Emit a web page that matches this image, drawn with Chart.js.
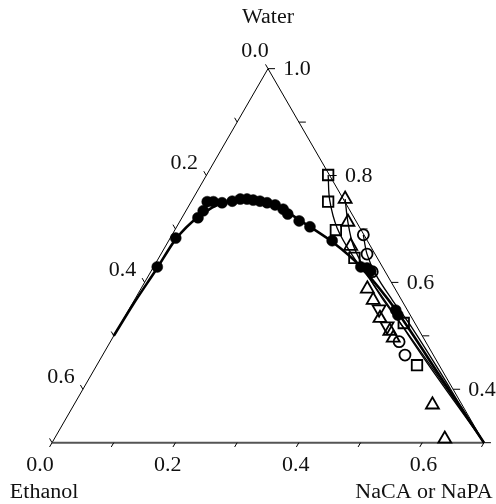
<!DOCTYPE html>
<html>
<head>
<meta charset="utf-8">
<script src="https://cdn.jsdelivr.net/npm/chart.js@4/dist/chart.umd.min.js"></script>
<style>
  html, body { margin: 0; padding: 0; background: #ffffff; }
  canvas { display: block; }
</style>
</head>
<body>
<canvas id="chart" width="496" height="504"></canvas>
<script>
// Compositions as mass fractions: salt (NaCA or NaPA) and water; ethanol = 1 - salt - water.

// Binodal data, filled circles
const filledSalt  = [0.006, 0.009, 0.026, 0.028, 0.026, 0.036, 0.051, 0.066, 0.077, 0.088, 0.099, 0.111,
                     0.124, 0.139, 0.156, 0.168, 0.193, 0.216, 0.265, 0.336, 0.347, 0.356, 0.433, 0.441];
const filledWater = [0.629, 0.683, 0.721, 0.734, 0.751, 0.751, 0.749, 0.752, 0.756, 0.756, 0.754, 0.752,
                     0.749, 0.745, 0.737, 0.728, 0.715, 0.704, 0.678, 0.629, 0.627, 0.621, 0.548, 0.539];

// Open squares
const squareSalt  = [0.197, 0.222, 0.261, 0.317, 0.458, 0.519];
const squareWater = [0.801, 0.751, 0.698, 0.646, 0.524, 0.445];

// Open triangles
const triSalt  = [0.247, 0.273, 0.300, 0.367, 0.387, 0.415, 0.443, 0.455, 0.581, 0.633];
const triWater = [0.756, 0.713, 0.668, 0.588, 0.567, 0.533, 0.509, 0.496, 0.371, 0.307];

// Open inverted triangles
const invTriSalt  = [0.405, 0.434];
const invTriWater = [0.550, 0.518];

// Open circles
const circSalt  = [0.310, 0.334, 0.359, 0.468, 0.490];
const circWater = [0.689, 0.653, 0.620, 0.489, 0.464];

// Fitted binodal curves
const fitFilledSalt  = [0.000, 0.002, 0.007, 0.010, 0.025, 0.049, 0.089, 0.139, 0.192, 0.266, 0.336, 0.437, 0.566, 0.700];
const fitFilledWater = [0.500, 0.560, 0.627, 0.681, 0.722, 0.747, 0.754, 0.745, 0.717, 0.676, 0.629, 0.545, 0.425, 0.300];
const fitSquareSalt  = [0.197, 0.223, 0.261, 0.311, 0.363, 0.436, 0.527, 0.615, 0.700];
const fitSquareWater = [0.801, 0.754, 0.702, 0.651, 0.605, 0.539, 0.455, 0.376, 0.300];
const fitTriSalt  = [0.247, 0.273, 0.303, 0.346, 0.399, 0.467, 0.555, 0.629, 0.700];
const fitTriWater = [0.756, 0.713, 0.670, 0.623, 0.571, 0.511, 0.432, 0.365, 0.300];
const fitCircSalt  = [0.310, 0.334, 0.368, 0.418, 0.476, 0.563, 0.632, 0.700];
const fitCircWater = [0.689, 0.653, 0.614, 0.567, 0.515, 0.432, 0.365, 0.300];

// Axis ticks
const axisMin = 0.3;                     // lowest water fraction shown
const saltTicks    = [0, 0.1, 0.2, 0.3, 0.4, 0.5, 0.6, 0.7];
const saltLabels   = ['0.0', '0.2', '0.4', '0.6'];
const ethanolTicks = [0, 0.1, 0.2, 0.3, 0.4, 0.5, 0.6, 0.7];
const ethanolLabels = ['0.0', '0.2', '0.4', '0.6'];
const waterTicks   = [1.0, 0.9, 0.8, 0.7, 0.6, 0.5, 0.4, 0.3];
const waterLabels  = ['1.0', '0.8', '0.6', '0.4'];

const H = Math.sqrt(3) / 2;
function toXY(s, w) { return { x: s + w / 2, y: w * H }; }
function points(sArr, wArr) { return sArr.map((s, i) => toXY(s, wArr[i])); }

const SERIF = '"Liberation Serif", "DejaVu Serif", serif';

// draw text slightly widened to suit the serif face
function label(ctx, text, x, y) {
  ctx.save();
  ctx.translate(x, y);
  ctx.scale(1.1, 1);
  ctx.fillText(text, 0, 0);
  ctx.restore();
}

const ternaryFrame = {
  id: 'ternaryFrame',
  beforeDatasetsDraw(chart) {
    const { ctx } = chart;
    const xs = chart.scales.x, ys = chart.scales.y;
    const P = (s, w) => { const p = toXY(s, w); return [xs.getPixelForValue(p.x), ys.getPixelForValue(p.y)]; };
    const top = P(0, 1), bl = P(0, axisMin), br = P(1 - axisMin, axisMin);

    ctx.save();
    ctx.lineCap = 'butt';
    // side edges
    ctx.strokeStyle = '#000';
    ctx.lineWidth = 1;
    ctx.beginPath();
    ctx.moveTo(bl[0], bl[1]); ctx.lineTo(top[0], top[1]); ctx.lineTo(br[0], br[1]);
    ctx.stroke();
    // base
    ctx.strokeStyle = '#555';
    ctx.lineWidth = 2;
    ctx.beginPath();
    ctx.moveTo(bl[0], bl[1]); ctx.lineTo(br[0], br[1]);
    ctx.stroke();

    ctx.strokeStyle = '#000';
    ctx.lineWidth = 1;
    // salt ticks on base, pointing down-left
    saltTicks.forEach(v => {
      const [x, y] = P(v, axisMin);
      ctx.beginPath(); ctx.moveTo(x, y); ctx.lineTo(x - 2.5, y + 4.3); ctx.stroke();
    });
    // water ticks on right edge, horizontal
    waterTicks.forEach(v => {
      const [x, y] = P(1 - v, v);
      ctx.beginPath(); ctx.moveTo(x, y); ctx.lineTo(x + 7, y); ctx.stroke();
    });
    // ethanol ticks on left edge, pointing up-left
    ethanolTicks.forEach(v => {
      const [x, y] = P(0, 1 - v);
      ctx.beginPath(); ctx.moveTo(x, y); ctx.lineTo(x - 2.5, y - 4.3); ctx.stroke();
    });

    ctx.fillStyle = '#111';
    ctx.font = '20px ' + SERIF;
    ctx.textAlign = 'center';
    ctx.textBaseline = 'middle';
    saltLabels.forEach(t => {
      const v = parseFloat(t);
      const [x, y] = P(v, axisMin);
      label(ctx, t, x - 12 + 22 * v, y + 23);
    });
    waterLabels.forEach(t => {
      const v = parseFloat(t);
      const [x, y] = P(1 - v, v);
      label(ctx, t, x + 29, y + 1);
    });
    ethanolLabels.forEach(t => {
      const v = parseFloat(t);
      const [x, y] = P(0, 1 - v);
      if (v === 0) label(ctx, t, x - 13, y - 17);
      else label(ctx, t, x - 22, y - 12);
    });
    // component names
    label(ctx, 'Water', top[0], top[1] - 51);
    label(ctx, 'Ethanol', bl[0] - 8, bl[1] + 50);
    label(ctx, 'NaCA or NaPA', br[0] - 60, bl[1] + 50);
    ctx.restore();
  }
};

const curve = (s, w, width, tension) => ({
  data: points(s, w), showLine: true, pointRadius: 0, borderColor: '#000',
  borderWidth: width, tension: tension, fill: false, clip: false
});
const marker = (s, w, style, r, filled, rot) => ({
  data: points(s, w), showLine: false, pointStyle: style, pointRadius: r,
  pointRotation: rot || 0, pointBorderWidth: filled ? 0.5 : 1.8,
  pointBackgroundColor: filled ? '#000' : 'rgba(0,0,0,0)', pointBorderColor: '#000', clip: false
});

new Chart(document.getElementById('chart'), {
  type: 'scatter',
  data: {
    datasets: [
      marker(filledSalt, filledWater, 'circle', 5.5, true),
      marker(squareSalt, squareWater, 'rect', 7.4, false),
      marker(triSalt, triWater, 'triangle', 7.5, false),
      marker(invTriSalt, invTriWater, 'triangle', 7.5, false, 180),
      marker(circSalt, circWater, 'circle', 5.5, false),
      curve(fitFilledSalt, fitFilledWater, 2.6, 0.25),
      curve(fitSquareSalt, fitSquareWater, 1.3, 0.35),
      curve(fitTriSalt, fitTriWater, 1.3, 0.35),
      curve(fitCircSalt, fitCircWater, 1.3, 0.35)
    ]
  },
  options: {
    responsive: false,
    animation: false,
    layout: { padding: 0, autoPadding: false },
    plugins: { legend: { display: false }, tooltip: { enabled: false } },
    scales: {
      x: { type: 'linear', display: false, min: 40.5 / 617, max: (40.5 + 496) / 617 },
      y: { type: 'linear', display: false, min: (603 - 504) / 617, max: 603 / 617 }
    }
  },
  plugins: [ternaryFrame]
});
</script>
</body>
</html>
